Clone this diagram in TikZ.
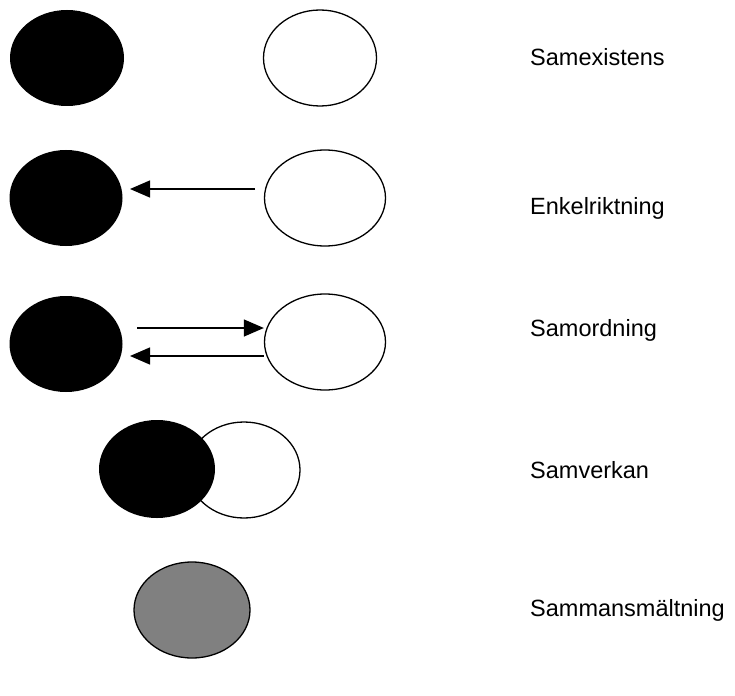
\documentclass[tikz,border=0pt]{standalone}
\usepackage{fontspec}
\setmainfont{Liberation Sans}
\usetikzlibrary{shapes.geometric,arrows.meta}
\begin{document}
\begin{tikzpicture}[x=1pt,y=-1pt,
  blob/.style={ellipse,inner sep=0pt,minimum width=114pt,minimum height=96pt},
  darkblob/.style={blob,fill=black},
  lightblob/.style={blob,draw=black,fill=white,line width=1.3pt},
  greyblob/.style={blob,draw=black,fill=black!50,line width=1.3pt},
  flow/.style={line width=1.3pt,-{Triangle[length=20pt,width=17pt]}},
  caption/.style={anchor=west,inner sep=0pt,font=\fontsize{23.5}{28}\selectfont}]
\useasboundingbox (0,0) rectangle (735,695);

% Samexistens
\node[darkblob] (b1) at (67,58) {};
\node[lightblob,minimum width=113pt] (w1) at (320,58) {};
\node[caption] (t1) at (530,57) {Samexistens};

% Enkelriktning
\node[darkblob,minimum width=113pt] (b2) at (66,198) {};
\node[lightblob,minimum width=121pt] (w2) at (325,198) {};
\coordinate (a2s) at (255,189);
\coordinate (a2e) at (130,189);
\draw[flow] (a2s) -- (a2e);
\node[caption] (t2) at (530,208) {Enkelriktning};

% Samordning
\node[darkblob,minimum width=113pt] (b3) at (66,344) {};
\node[lightblob,minimum width=121pt] (w3) at (325,342) {};
\coordinate (a3s) at (137,328);
\coordinate (a3e) at (130,356);
\draw[flow] (a3s) -- (a3s -| w3.west);
\draw[flow] (w3.west |- a3e) -- (a3e);
\node[caption] (t3) at (530,330) {Samordning};

% Samverkan
\node[lightblob,minimum width=112pt] (w4) at (244,470) {};
\node[darkblob,minimum width=116pt,minimum height=98pt] (b4) at (157,469) {};
\node[caption] (t4) at (530,470) {Samverkan};

% Sammansmältning
\node[greyblob,minimum width=116pt] (g5) at (192,610) {};
\node[caption] (t5) at (530,610) {Sammansmältning};
\end{tikzpicture}
\end{document}
